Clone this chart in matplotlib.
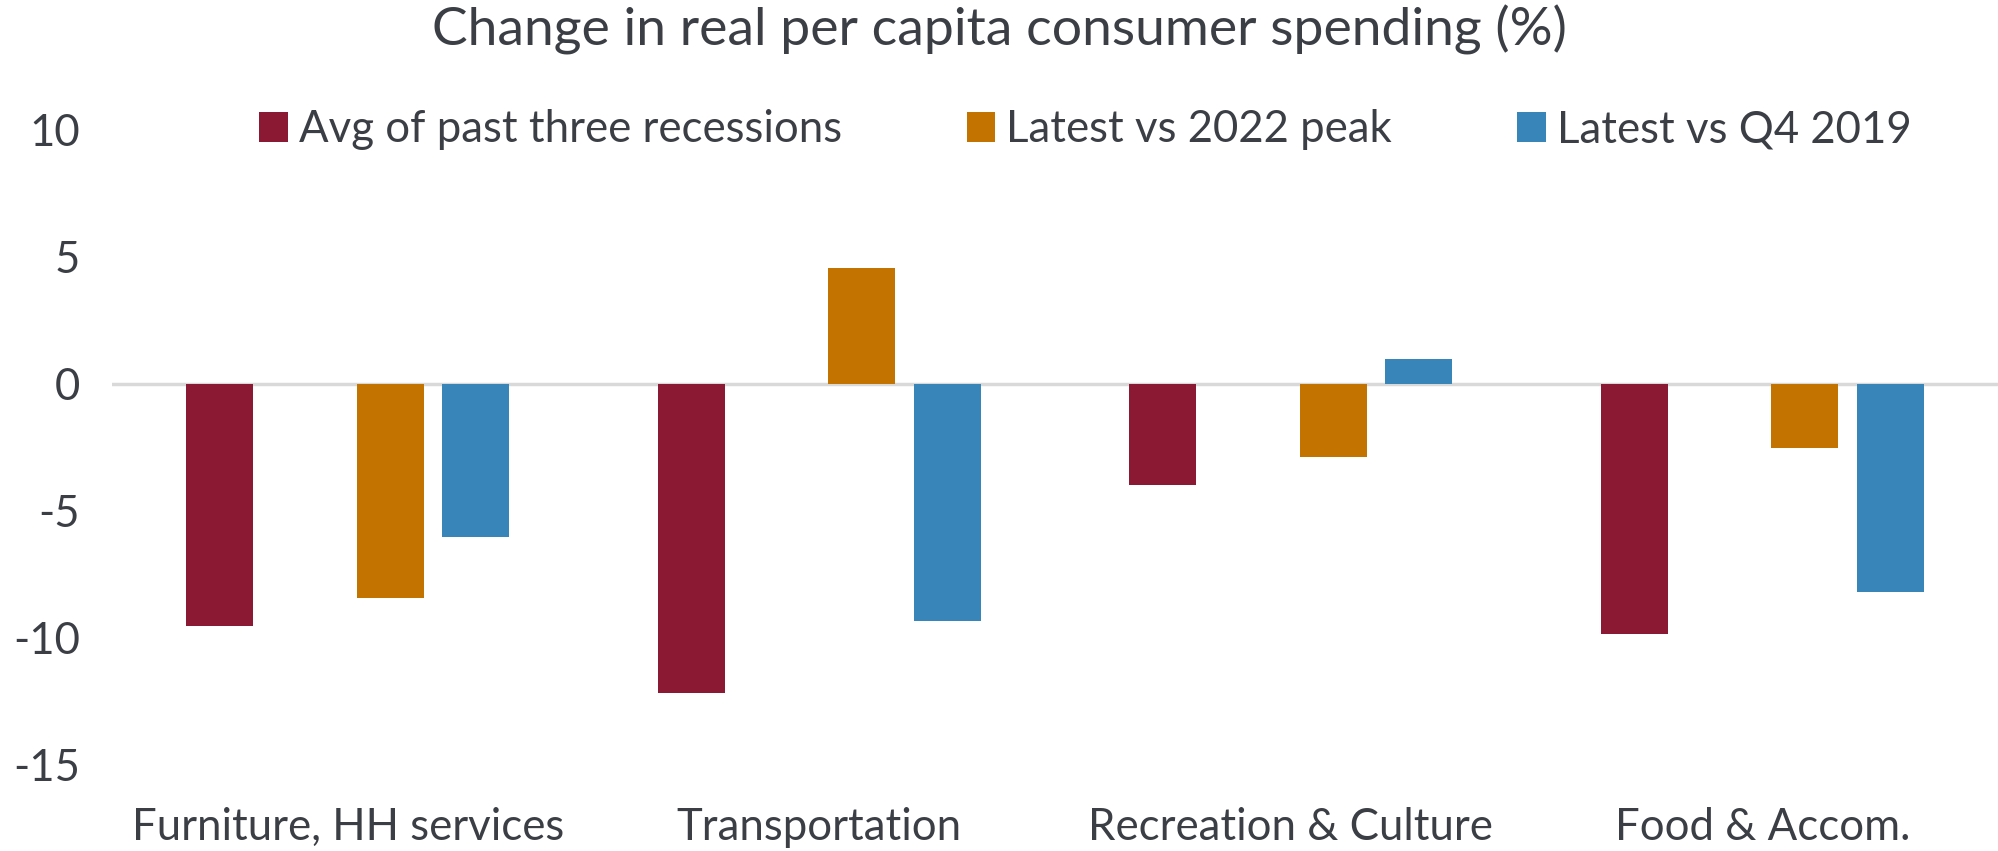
import matplotlib
matplotlib.use("Agg")
import matplotlib.pyplot as plt
import numpy as np

categories = ["Furniture, HH services", "Transportation", "Recreation & Culture", "Food & Accom."]
avg_past_recessions = [-9.55, -12.2, -4.0, -9.85]
latest_vs_2022_peak = [-8.45, 4.55, -2.9, -2.55]
latest_vs_q4_2019 = [-6.05, -9.35, 0.95, -8.2]
series_names = ["Avg of past three recessions", "Latest vs 2022 peak", "Latest vs Q4 2019"]
yticks = [10, 5, 0, -5, -10, -15]
title = "Change in real per capita consumer spending (%)"

plt.rcParams['font.family'] = ['Lato', 'DejaVu Sans']
text_color = "#3B3F45"
colors = ["#8B1934", "#C37300", "#3885B9"]
series = [avg_past_recessions, latest_vs_2022_peak, latest_vs_q4_2019]
slots = [0, 2, 3]  # slot 1 is empty in the original layout

fig = plt.figure(figsize=(19.98, 8.51), dpi=100)
ax = fig.add_axes([112/1998, 0.1019, 1 - 112/1998, 0.8475 - 0.1019])

x = np.arange(len(categories))
slot_w = 0.181
bar_w = 0.142
handles = []
for vals, slot, col, name in zip(series, slots, colors, series_names):
    h = ax.bar(x + (slot - 1.5) * slot_w, vals, width=bar_w, color=col, label=name, zorder=3)
    handles.append(h)

fs = 31.5
ax.set_xlim(-0.5, len(categories) - 0.5)
ax.set_ylim(-15, 10)
ax.set_yticks(yticks)
ax.set_yticklabels([str(t) for t in yticks], fontsize=fs, color=text_color)
ax.set_xticks(x)
ax.set_xticklabels(categories, fontsize=fs, color=text_color)
ax.tick_params(axis='both', length=0)
ax.tick_params(axis='y', pad=23)
ax.tick_params(axis='x', pad=31)
for s in ax.spines.values():
    s.set_visible(False)
ax.axhline(0, color="#D9D9D9", lw=2.5, zorder=2)

fig.text(0.5, 1 - 30/851, title, ha='center', va='center', fontsize=38.5, color=text_color)

leg = ax.legend(handles=handles, loc='center', bbox_to_anchor=(0.516, 1.0), ncol=3, frameon=False,
                fontsize=fs, handlelength=0.66, handleheight=0.66, handletextpad=0.25,
                columnspacing=2.85, labelcolor=text_color)

fig.savefig("out.png", dpi=100, facecolor="white")
